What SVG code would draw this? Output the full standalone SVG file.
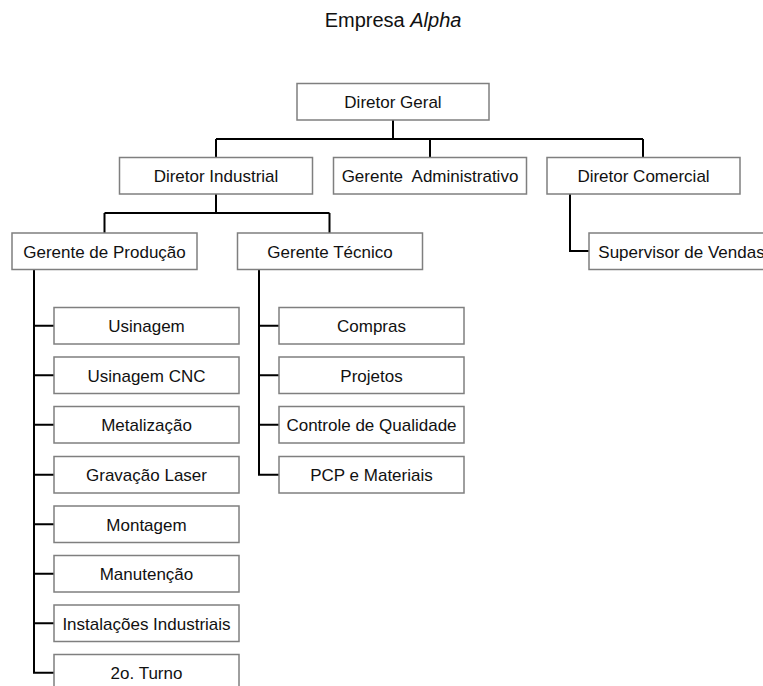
<svg xmlns="http://www.w3.org/2000/svg" width="763" height="686" viewBox="0 0 763 686">
<style>
.box{fill:#fff;stroke:#7f7f7f;stroke-width:1.5}
.t{font-family:"Liberation Sans",Arial,sans-serif;font-size:17px;fill:#111;text-anchor:middle}
.c{fill:none;stroke:#000;stroke-width:2}
</style>
<rect width="763" height="686" fill="#fff"/>
<text x="393" y="27" font-family="Liberation Sans, Arial, sans-serif" font-size="20" fill="#111" text-anchor="middle">Empresa <tspan font-style="italic">Alpha</tspan></text>
<g id="connectors">
<path class="c" d="M393 120V139M216 139H643M216 139V157.5M430 139V157.5M643 139V157.5"/>
<path class="c" d="M216 194V213M104.5 213H329.5M104.5 213V233M329.5 213V233"/>
<path class="c" d="M570 194V251H589"/>
<path class="c" d="M34 269.5V672.75H54M34 325.75H54M34 375.25H54M34 424.75H54M34 474.75H54M34 524.25H54M34 573.75H54M34 623.25H54"/>
<path class="c" d="M259 269.5V474.75H279M259 325.75H279M259 375.25H279M259 424.75H279"/>
</g>
<g id="diretor-geral"><rect class="box" x="297" y="83.5" width="192" height="36.5"/><text class="t" x="393" y="108">Diretor Geral</text></g>
<g id="diretor-industrial"><rect class="box" x="119.5" y="157.5" width="193" height="36.5"/><text class="t" x="216" y="182">Diretor Industrial</text></g>
<g id="gerente-administrativo"><rect class="box" x="333.5" y="157.5" width="193" height="36.5"/><text class="t" x="430" y="182" xml:space="preserve">Gerente  Administrativo</text></g>
<g id="diretor-comercial"><rect class="box" x="547" y="157.5" width="193" height="36.5"/><text class="t" x="643.5" y="182">Diretor Comercial</text></g>
<g id="gerente-producao"><rect class="box" x="12" y="233" width="185" height="36.5"/><text class="t" x="104.5" y="257.5">Gerente de Produção</text></g>
<g id="gerente-tecnico"><rect class="box" x="237.5" y="233" width="185" height="36.5"/><text class="t" x="330" y="257.5">Gerente Técnico</text></g>
<g id="supervisor-vendas"><rect class="box" x="589" y="233" width="185" height="36.5"/><text class="t" x="681.5" y="257.5">Supervisor de Vendas</text></g>
<g id="usinagem"><rect class="box" x="54" y="307.5" width="185" height="36.5"/><text class="t" x="146.5" y="332">Usinagem</text></g>
<g id="usinagem-cnc"><rect class="box" x="54" y="357" width="185" height="36.5"/><text class="t" x="146.5" y="381.5">Usinagem CNC</text></g>
<g id="metalizacao"><rect class="box" x="54" y="406.5" width="185" height="36.5"/><text class="t" x="146.5" y="431">Metalização</text></g>
<g id="gravacao-laser"><rect class="box" x="54" y="456.5" width="185" height="36.5"/><text class="t" x="146.5" y="481">Gravação Laser</text></g>
<g id="montagem"><rect class="box" x="54" y="506" width="185" height="36.5"/><text class="t" x="146.5" y="530.5">Montagem</text></g>
<g id="manutencao"><rect class="box" x="54" y="555.5" width="185" height="36.5"/><text class="t" x="146.5" y="580">Manutenção</text></g>
<g id="instalacoes"><rect class="box" x="54" y="605" width="185" height="36.5"/><text class="t" x="146.5" y="629.5">Instalações Industriais</text></g>
<g id="turno2"><rect class="box" x="54" y="654.5" width="185" height="36.5"/><text class="t" x="146.5" y="679">2o. Turno</text></g>
<g id="compras"><rect class="box" x="279" y="307.5" width="185" height="36.5"/><text class="t" x="371.5" y="332">Compras</text></g>
<g id="projetos"><rect class="box" x="279" y="357" width="185" height="36.5"/><text class="t" x="371.5" y="381.5">Projetos</text></g>
<g id="controle-qualidade"><rect class="box" x="279" y="406.5" width="185" height="36.5"/><text class="t" x="371.5" y="431">Controle de Qualidade</text></g>
<g id="pcp-materiais"><rect class="box" x="279" y="456.5" width="185" height="36.5"/><text class="t" x="371.5" y="481">PCP e Materiais</text></g>
</svg>
